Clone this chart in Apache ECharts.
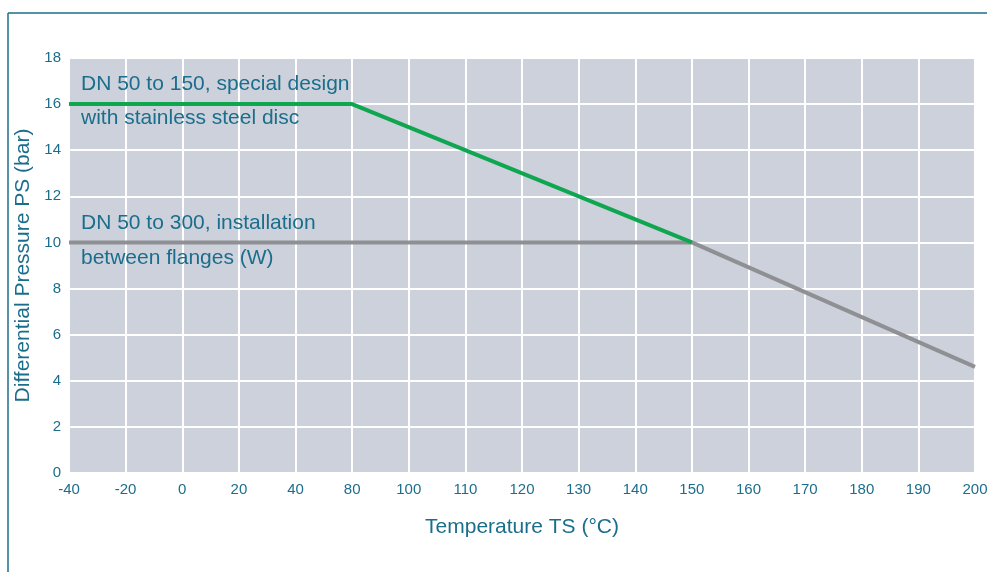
<!DOCTYPE html>
<html><head><meta charset="utf-8">
<script src="https://cdn.jsdelivr.net/npm/echarts@6/dist/echarts.min.js"></script>
<style>html,body{margin:0;padding:0;background:#fff;overflow:hidden}#c{width:987px;height:572px}</style>
</head><body><div id="c"></div>
<script>
const xLabels = ['-40','-20','0','20','40','80','100','110','120','130','140','150','160','170','180','190','200'];
const greenX = ['-40','80','150'];
const greenY = [16,16,10];
const grayX = ['-40','150','200'];
const grayY = [10,10,4.6];
const yTicks = {min:0,max:18,interval:2};
const greenLabel = ['DN 50 to 150, special design','with stainless steel disc'];
const grayLabel = ['DN 50 to 300, installation','between flanges (W)'];

const teal = '#1b6e8b';
const font = 'Liberation Sans, Arial, sans-serif';
const chart = echarts.init(document.getElementById('c'));
chart.setOption({
  animation:false,
  backgroundColor:'#fff',
  grid:{left:69,right:12,top:58,bottom:99,show:true,backgroundColor:'#cdd1dc',borderWidth:0,
        containLabel:false,outerBoundsMode:'none'},
  xAxis:{type:'category',data:xLabels,boundaryGap:false,
    name:'Temperature TS (°C)',nameLocation:'middle',nameGap:44,
    nameTextStyle:{color:teal,fontSize:21,fontFamily:font},
    axisLine:{show:false},axisTick:{show:false},
    axisLabel:{color:teal,fontSize:15,fontFamily:font,margin:9,interval:0},
    splitLine:{show:true,lineStyle:{color:'#ffffff',width:2}}},
  yAxis:{type:'value',min:yTicks.min,max:yTicks.max,interval:yTicks.interval,
    name:'Differential Pressure PS (bar)',nameLocation:'middle',nameGap:35,
    nameTextStyle:{color:teal,fontSize:21,fontFamily:font},
    axisLine:{show:false},axisTick:{show:false},
    axisLabel:{color:teal,fontSize:15,fontFamily:font,margin:8,padding:[0,0,4,0]},
    splitLine:{show:true,lineStyle:{color:'#ffffff',width:2}}},
  series:[
    {type:'line',data:grayX.map((x,i)=>[x,grayY[i]]),symbol:'none',
     lineStyle:{color:'#8f9093',width:4},z:3},
    {type:'line',data:greenX.map((x,i)=>[x,greenY[i]]),symbol:'none',
     lineStyle:{color:'#0fa650',width:4},z:4}
  ],
  graphic:[
    {type:'line',shape:{x1:8,y1:13,x2:987,y2:13},style:{stroke:teal,lineWidth:1.5},silent:true},
    {type:'line',shape:{x1:8,y1:13,x2:8,y2:572},style:{stroke:teal,lineWidth:1.5},silent:true},
    {type:'text',left:81,top:67,style:{text:greenLabel.join('\n'),fill:teal,font:'21px '+font,lineHeight:34},z:10},
    {type:'text',left:81,top:206,style:{text:grayLabel.join('\n'),fill:teal,font:'21px '+font,lineHeight:35},z:10}
  ]
});
</script></body></html>
